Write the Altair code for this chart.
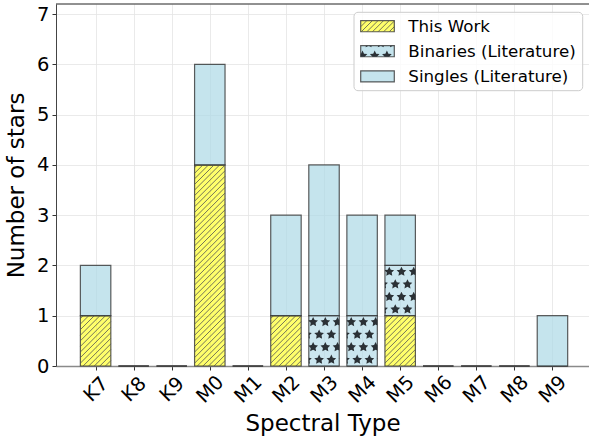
import json
import math
import altair as alt
import pandas as pd

# ---------------- data ----------------
categories = ['K7', 'K8', 'K9', 'M0', 'M1', 'M2', 'M3', 'M4', 'M5', 'M6', 'M7', 'M8', 'M9']
this_work = [1, 0, 0, 4, 0, 1, 0, 0, 1, 0, 0, 0, 0]
binaries = [0, 0, 0, 0, 0, 0, 1, 1, 1, 0, 0, 0, 0]
singles = [1, 0, 0, 2, 0, 2, 3, 2, 1, 0, 0, 0, 1]
series_names = ['This Work', 'Binaries (Literature)', 'Singles (Literature)']
y_ticks = [0, 1, 2, 3, 4, 5, 6, 7]

# ---------------- layout / style ----------------
W, H = 533, 362
X_DOMAIN = [-1.04, 12.96]
Y_DOMAIN = [0, 7.2]
BAR_W = 0.8
FONT = 'DejaVu Sans'
EDGE = '#333333'
YELLOW = '#ffff00'
BLUE = '#add8e6'
HATCH_COLOR = '#555555'
STAR_COLOR = '#2b3136'
STAR_R = 5.1

unit_px = H / (Y_DOMAIN[1] - Y_DOMAIN[0])
step_px = W / (X_DOMAIN[1] - X_DOMAIN[0])
bar_px = BAR_W * step_px


def f(v):
    return f"{v:.2f}"


def hatch_path(w, h, s, c0=0.0):
    segs = []
    cmin, cmax = -(w / 2 + h / 2), (w / 2 + h / 2)
    k0 = math.floor((cmin - c0) / s) - 1
    k1 = math.ceil((cmax - c0) / s) + 1
    for k in range(k0, k1 + 1):
        c = c0 + k * s
        xa = max(-w / 2, c - h / 2)
        xb = min(w / 2, c + h / 2)
        if xb - xa > 0.3:
            segs.append(f"M{f(xa)},{f(c - xa)}L{f(xb)},{f(c - xb)}")
    return ''.join(segs)


def clip_poly(poly, xmin, xmax, ymin, ymax):
    def clip(pts, inside, inter):
        out = []
        n = len(pts)
        for i in range(n):
            cur, prev = pts[i], pts[i - 1]
            if inside(cur):
                if not inside(prev):
                    out.append(inter(prev, cur))
                out.append(cur)
            elif inside(prev):
                out.append(inter(prev, cur))
        return out

    def ix(a, b, xv):
        t = (xv - a[0]) / (b[0] - a[0])
        return (xv, a[1] + t * (b[1] - a[1]))

    def iy(a, b, yv):
        t = (yv - a[1]) / (b[1] - a[1])
        return (a[0] + t * (b[0] - a[0]), yv)

    pts = poly
    for inside, inter in [
        (lambda p: p[0] >= xmin, lambda a, b: ix(a, b, xmin)),
        (lambda p: p[0] <= xmax, lambda a, b: ix(a, b, xmax)),
        (lambda p: p[1] >= ymin, lambda a, b: iy(a, b, ymin)),
        (lambda p: p[1] <= ymax, lambda a, b: iy(a, b, ymax)),
    ]:
        if not pts:
            break
        pts = clip(pts, inside, inter)
    return pts


def star(cx, cy, r, ri):
    pts = []
    for j in range(10):
        a = math.radians(-90 + 36 * j)
        rr = r if j % 2 == 0 else ri
        pts.append((cx + rr * math.cos(a), cy + rr * math.sin(a)))
    return pts


def star_path(w, h, centers, r=STAR_R):
    out = []
    for cx, cy in centers:
        p = clip_poly(star(cx, cy, r, r * 0.5), -w / 2, w / 2, -h / 2, h / 2)
        if len(p) >= 3:
            out.append('M' + 'L'.join(f"{f(x)},{f(y)}" for x, y in p) + 'Z')
    return ''.join(out)


hs = unit_px / 9.0
HATCH_CELL = hatch_path(bar_px, unit_px, hs, c0=1.5)

rs = unit_px / 4.0
cs = 12.2
cell_centers = []
for r_i in range(4):
    yy = -unit_px / 2 + rs * (r_i + 0.5)
    if r_i % 2 == 0:
        xs = [-10.9 + cs * k for k in range(-1, 3)]
    else:
        xs = [-17.1 + cs * k for k in range(0, 4)]
    for xx in xs:
        cell_centers.append((xx, yy))
STAR_CELL = star_path(bar_px, unit_px, cell_centers)

# ---------------- tables ----------------
rows = []
for i, c in enumerate(categories):
    base = 0
    for name, vals in zip(series_names, [this_work, binaries, singles]):
        v = vals[i]
        rows.append(dict(cat=c, x0=i - BAR_W / 2, x1=i + BAR_W / 2,
                         y0=base, y1=base + v, series=name))
        base += v
bars = pd.DataFrame(rows)

hatch_cells = pd.DataFrame([dict(x=i, y=k + 0.5)
                            for i in range(len(categories)) for k in range(this_work[i])])
star_cells = pd.DataFrame([dict(x=i, y=this_work[i] + k + 0.5)
                           for i in range(len(categories)) for k in range(binaries[i])])

xscale = alt.Scale(domain=X_DOMAIN, nice=False, zero=False)
yscale = alt.Scale(domain=Y_DOMAIN, nice=False)
label_expr = json.dumps(categories) + '[datum.value]'

bar_layer = alt.Chart(bars).mark_rect(stroke=EDGE, strokeOpacity=0.8, strokeWidth=1.2).encode(
    x=alt.X('x0:Q', scale=xscale,
            axis=alt.Axis(values=list(range(len(categories))), labelExpr=label_expr,
                          title='Spectral Type', labelAngle=315, labelAlign='center',
                          labelBaseline='middle', labelPadding=19, labelFontSize=19.5,
                          titleFontSize=23, titlePadding=6, grid=True)),
    x2='x1:Q',
    y=alt.Y('y0:Q', scale=yscale,
            axis=alt.Axis(values=y_ticks, title='Number of stars', labelFontSize=19.5,
                          titleFontSize=23, titlePadding=8, grid=True, labelPadding=3)),
    y2='y1:Q',
    fill=alt.Fill('series:N', scale=alt.Scale(domain=series_names, range=[YELLOW, BLUE, BLUE]),
                  legend=None),
    fillOpacity=alt.FillOpacity('series:N', scale=alt.Scale(domain=series_names,
                                                            range=[0.58, 0.7, 0.7]), legend=None),
)

hatch_layer = alt.Chart(hatch_cells).mark_point(
    shape=HATCH_CELL, size=4, filled=False, stroke=HATCH_COLOR, strokeWidth=0.9, opacity=0.9
).encode(x=alt.X('x:Q', scale=xscale), y=alt.Y('y:Q', scale=yscale))

star_layer = alt.Chart(star_cells).mark_point(
    shape=STAR_CELL, size=4, filled=True, fill=STAR_COLOR, strokeWidth=0, opacity=1
).encode(x=alt.X('x:Q', scale=xscale), y=alt.Y('y:Q', scale=yscale))

one = pd.DataFrame({'k': [0]})
top_spine = alt.Chart(one).mark_rule(color='#222222', strokeWidth=1).encode(
    x=alt.value(0), x2=alt.value(W), y=alt.value(0))

# ---------------- legend (drawn manually) ----------------
LX0, LX1, LY0, LY1 = 298, 526.7, 8.3, 86.7
PX0, PX1, PH = 304.7, 338.3, 11.1
TX = 352.3
row_cy = [22.2, 47.2, 72.4]
legend_layers = [alt.Chart(one).mark_rect(cornerRadius=4, fill='white', fillOpacity=0.8,
                                          stroke='#cccccc', strokeWidth=1).encode(
    x=alt.value(LX0), x2=alt.value(LX1), y=alt.value(LY0), y2=alt.value(LY1))]
pw = PX1 - PX0
leg_hatch = hatch_path(pw, PH, hs, c0=0.5)
leg_star_centers = [(-15 + cs * k, 4.5) for k in range(0, 4)] + \
                   [(-15 + cs / 2 + cs * k, 4.5 - rs) for k in range(-1, 4)]
leg_star = star_path(pw, PH, leg_star_centers)
fills = [(YELLOW, 0.58), (BLUE, 0.7), (BLUE, 0.7)]
for name, cy, (col, op) in zip(series_names, row_cy, fills):
    d = pd.DataFrame({'label': [name]})
    legend_layers.append(alt.Chart(d).mark_rect(fill=col, fillOpacity=op, stroke=EDGE,
                                                strokeOpacity=0.8, strokeWidth=1.2).encode(
        x=alt.value(PX0), x2=alt.value(PX1), y=alt.value(cy - PH / 2), y2=alt.value(cy + PH / 2)))
    if name == series_names[0]:
        legend_layers.append(alt.Chart(d).mark_point(
            shape=leg_hatch, size=4, filled=False, stroke=HATCH_COLOR, strokeWidth=0.9, opacity=0.9
        ).encode(x=alt.value((PX0 + PX1) / 2), y=alt.value(cy)))
    if name == series_names[1]:
        legend_layers.append(alt.Chart(d).mark_point(
            shape=leg_star, size=4, filled=True, fill=STAR_COLOR, strokeWidth=0, opacity=1
        ).encode(x=alt.value((PX0 + PX1) / 2), y=alt.value(cy)))
    legend_layers.append(alt.Chart(d).mark_text(align='left', baseline='middle', fontSize=16.7,
                                                font=FONT, color='black').encode(
        x=alt.value(TX), y=alt.value(cy + 0.5), text='label:N'))

chart = alt.layer(bar_layer, hatch_layer, star_layer, top_spine, *legend_layers).properties(
    width=W, height=H,
    autosize=alt.AutoSizeParams(type='none'),
    padding={'left': 56, 'top': 4, 'right': 0, 'bottom': 73},
).configure(font=FONT).configure_view(stroke=None).configure_axis(
    labelFont=FONT, titleFont=FONT, labelColor='black', titleColor='black',
    titleFontWeight='normal', tickColor='#333333', tickSize=4, tickWidth=1,
    domainColor='#444444', domainWidth=1, gridColor='#e4e4e4', gridWidth=0.8,
).configure_axisX(domainColor='#8a8a8a', domainWidth=1.5)

chart.save('out.html', embed_options={'renderer': 'svg', 'actions': False})
